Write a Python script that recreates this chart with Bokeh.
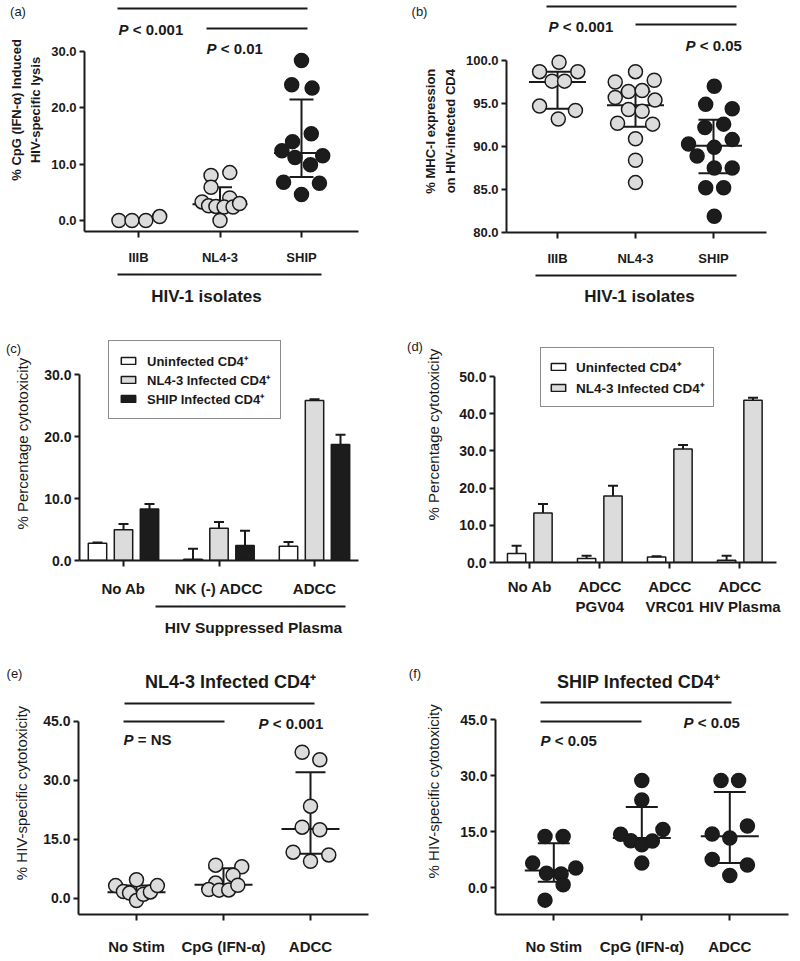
from bokeh.plotting import figure
from bokeh.layouts import column, row
from bokeh.models import (FixedTicker, NumeralTickFormatter, Label, Legend,
                          LegendItem, Range1d)
from bokeh.embed import file_html
from bokeh.resources import INLINE

FONT = "Liberation Sans"
INK = "#1a1a1a"
GREY = "#dcdcdc"
DARK = "#1c1c1c"
VERT = 1.5707963

# ================= DATA =================
# (a) CpG (IFN-alpha) induced HIV-specific lysis
a_cats = ["IIIB", "NL4-3", "SHIP"]
a_iiib = [0.0, 0.0, 0.0, 0.7]
a_iiib_dx = [-0.24, -0.08, 0.09, 0.26]
a_nl43 = [8.0, 8.5, 5.9, 4.0, 3.3, 2.6, 2.5, 2.4, 2.4, 3.0, 0.0]
a_nl43_dx = [-0.11, 0.12, -0.11, 0.12, -0.22, -0.14, -0.05, 0.05, 0.16, 0.24, 0.0]
a_ship = [28.4, 24.1, 23.5, 15.4, 14.0, 12.4, 11.2, 11.5, 9.9, 6.8, 6.6, 4.6]
a_ship_dx = [0.0, -0.12, 0.13, 0.12, -0.11, -0.24, -0.08, 0.26, 0.11, -0.22, 0.22, 0.0]
a_stat_cat = [2, 3]
a_median = [2.9, 12.0]
a_q1 = [2.4, 7.7]
a_q3 = [5.9, 21.5]
a_yticks = [0, 10, 20, 30]

# (b) MHC-I expression on HIV-infected CD4
b_cats = ["IIIB", "NL4-3", "SHIP"]
b_iiib = [99.8, 98.7, 98.7, 97.6, 97.6, 94.7, 94.2, 93.2]
b_iiib_dx = [0.02, -0.23, 0.26, -0.07, 0.09, -0.23, 0.23, 0.01]
b_nl43 = [98.7, 97.5, 97.7, 96.4, 96.5, 95.7, 95.4, 94.3, 94.1, 92.7, 92.6, 90.9, 88.4, 85.8]
b_nl43_dx = [0.0, -0.26, 0.24, -0.09, 0.085, -0.26, 0.25, -0.09, 0.085, -0.23, 0.22, 0.0, 0.0, 0.0]
b_ship = [97.0, 94.9, 94.4, 92.2, 92.6, 90.8, 90.3, 89.9, 88.9, 87.5, 87.5, 85.2, 85.2, 81.9]
b_ship_dx = [0.01, -0.1, 0.24, -0.11, 0.13, 0.24, -0.32, 0.01, -0.21, 0.01, 0.24, -0.1, 0.13, 0.01]
b_stat_cat = [1, 2, 3]
b_median = [97.5, 94.8, 90.1]
b_q1 = [94.4, 92.3, 86.9]
b_q3 = [98.7, 96.4, 93.1]
b_yticks = [80, 85, 90, 95, 100]

# (c) % cytotoxicity, HIV suppressed plasma
c_cats = ["No Ab", "NK (-) ADCC", "ADCC"]
c_series = ["Uninfected CD4\u207a", "NL4-3 Infected CD4\u207a", "SHIP Infected CD4\u207a"]
c_uninf = [2.8, 0.2, 2.3]
c_uninf_err = [0.1, 1.7, 0.7]
c_nl43 = [4.95, 5.2, 25.8]
c_nl43_err = [0.95, 1.0, 0.2]
c_ship = [8.3, 2.4, 18.7]
c_ship_err = [0.8, 2.4, 1.6]
c_yticks = [0, 10, 20, 30]

# (d) % cytotoxicity, antibodies
d_cats = ["No Ab", "ADCC\nPGV04", "ADCC\nVRC01", "ADCC\nHIV Plasma"]
d_series = ["Uninfected CD4\u207a", "NL4-3 Infected CD4\u207a"]
d_uninf = [2.4, 1.1, 1.5, 0.6]
d_uninf_err = [2.1, 0.7, 0.2, 1.2]
d_nl43 = [13.3, 17.9, 30.5, 43.6]
d_nl43_err = [2.4, 2.7, 1.1, 0.7]
d_yticks = [0, 10, 20, 30, 40, 50]

# (e) NL4-3 infected CD4+
e_cats = ["No Stim", "CpG (IFN-\u03b1)", "ADCC"]
e_nostim = [3.2, 4.7, 1.7, 1.3, -0.6, 1.0, 1.6, 3.2]
e_nostim_dx = [-0.24, 0.0, -0.15, -0.08, 0.0, 0.08, 0.16, 0.24]
e_cpg = [8.4, 8.0, 5.85, 3.85, 2.2, 2.05, 2.1, 3.3]
e_cpg_dx = [-0.09, 0.21, 0.11, -0.09, -0.17, -0.05, 0.06, 0.165]
e_adcc = [37.1, 35.2, 23.4, 18.05, 17.4, 11.7, 11.0, 9.4]
e_adcc_dx = [-0.096, 0.107, 0.0, -0.096, 0.107, -0.2, 0.21, 0.0]
e_median = [1.5, 3.4, 17.6]
e_q1 = [0.9, 2.1, 11.3]
e_q3 = [3.2, 7.6, 32.0]
e_yticks = [0, 15, 30, 45]

# (f) SHIP infected CD4+
f_cats = ["No Stim", "CpG (IFN-\u03b1)", "ADCC"]
f_nostim = [13.7, 13.7, 6.6, 3.9, 3.7, 5.3, 0.8, -3.3]
f_nostim_dx = [-0.10, 0.106, -0.24, -0.083, 0.083, 0.25, 0.106, -0.10]
f_cpg = [28.7, 23.5, 14.3, 12.6, 11.5, 12.5, 15.6, 6.6]
f_cpg_dx = [0.0, 0.0, -0.24, -0.125, 0.0, 0.12, 0.24, 0.0]
f_adcc = [28.7, 28.7, 14.4, 16.5, 13.3, 7.6, 6.1, 3.3]
f_adcc_dx = [-0.1, 0.1, -0.2, 0.2, 0.0, -0.2, 0.2, 0.0]
f_median = [4.6, 13.3, 13.8]
f_q1 = [1.6, 12.0, 6.6]
f_q3 = [11.9, 21.6, 25.6]
f_yticks = [0, 15, 30, 45]


# ================= LAYOUT HELPERS =================
class Geo:
    """Main-plot geometry in page pixels; axis calibration from tick positions."""
    def __init__(self, left, top, w, h, frame, xcal, ycal):
        self.left, self.top, self.w, self.h = left, top, w, h
        self.fl, self.fr, self.ft, self.fb = frame
        (px0, v0), (px1, v1) = xcal
        self.kx = (v1 - v0) / (px1 - px0)
        self.xc = (px0, v0)
        (py0, w0), (py1, w1) = ycal
        self.ky = (w1 - w0) / (py1 - py0)
        self.yc = (py0, w0)

    def X(self, px):
        return self.xc[1] + (px - self.xc[0]) * self.kx

    def Y(self, py):
        return self.yc[1] + (py - self.yc[0]) * self.ky

    def DX(self, dpx):
        return dpx * abs(self.kx)


class PageGeo:
    """Identity geometry for decoration strips (page pixel coordinates)."""
    def X(self, px):
        return px

    def Y(self, py):
        return py


PG = PageGeo()


def make_fig(g, yticks, ytick_size, xticks, xlabels, xlab_size, xstandoff):
    p = figure(width=g.w, height=g.h,
               x_range=Range1d(g.X(g.fl), g.X(g.fr)),
               y_range=Range1d(g.Y(g.fb), g.Y(g.ft)),
               output_backend="svg", toolbar_location=None,
               min_border_left=g.fl - g.left, min_border_right=g.left + g.w - g.fr,
               min_border_top=g.ft - g.top, min_border_bottom=g.top + g.h - g.fb)
    p.grid.visible = False
    p.outline_line_color = None
    p.background_fill_color = "white"
    p.border_fill_color = "white"

    ya = p.yaxis[0]
    ya.ticker = FixedTicker(ticks=yticks, minor_ticks=[])
    ya.formatter = NumeralTickFormatter(format="0.0")
    ya.bounds = (g.Y(g.fb), max(yticks))
    ya.major_label_text_font = FONT
    ya.major_label_text_font_size = f"{ytick_size}px"
    ya.major_label_text_font_style = "bold"
    ya.major_label_text_color = INK
    ya.major_label_standoff = 3
    ya.major_tick_out = 5
    ya.major_tick_in = 0
    ya.minor_tick_out = 0
    ya.minor_tick_in = 0
    ya.axis_line_width = 2
    ya.major_tick_line_width = 2
    ya.axis_line_color = INK
    ya.major_tick_line_color = INK

    xa = p.xaxis[0]
    xa.ticker = FixedTicker(ticks=xticks, minor_ticks=[])
    xa.major_label_overrides = {t: lab for t, lab in zip(xticks, xlabels)}
    xa.major_label_text_font = FONT
    xa.major_label_text_font_size = f"{xlab_size}px"
    xa.major_label_text_font_style = "bold"
    xa.major_label_text_color = INK
    xa.major_label_standoff = xstandoff
    xa.major_tick_out = 6
    xa.major_tick_in = 0
    xa.minor_tick_out = 0
    xa.minor_tick_in = 0
    xa.axis_line_width = 2
    xa.major_tick_line_width = 2
    xa.axis_line_color = INK
    xa.major_tick_line_color = INK
    return p


def strip(x0, y0, w, h):
    s = figure(width=w, height=h, x_range=Range1d(x0, x0 + w), y_range=Range1d(y0 + h, y0),
               output_backend="svg", toolbar_location=None, min_border=0,
               x_axis_type=None, y_axis_type=None)
    s.grid.visible = False
    s.outline_line_color = None
    s.background_fill_color = "white"
    s.border_fill_color = "white"
    return s


def put_text(p, g, px, py, s, size, style="bold", align="left", angle=0.0, x_offset=0,
             line_height=1.2):
    p.add_layout(Label(x=g.X(px), y=g.Y(py), text=s, text_font=FONT,
                       text_font_size=f"{size}px", text_font_style=style,
                       text_align=align, text_baseline="middle", angle=angle,
                       x_offset=x_offset, text_color=INK, text_line_height=line_height))


def pval(p, g, px, py, rest, size=15):
    put_text(p, g, px, py, "P", size, "bold italic")
    put_text(p, g, px, py, rest, size, "bold", x_offset=size * 0.953)


def hline(p, g, px0, px1, py):
    p.segment(x0=[g.X(px0)], x1=[g.X(px1)], y0=[g.Y(py)], y1=[g.Y(py)],
              line_color=INK, line_width=2)


def stats(p, g, cats, med, q1, q3, mw_px, cw_px):
    mw, cw = g.DX(mw_px), g.DX(cw_px)
    p.segment(x0=cats, x1=cats, y0=q1, y1=q3, line_color=INK, line_width=2)
    p.segment(x0=[c - mw for c in cats], x1=[c + mw for c in cats], y0=med, y1=med,
              line_color=INK, line_width=2)
    p.segment(x0=[c - cw for c in cats], x1=[c + cw for c in cats], y0=q1, y1=q1,
              line_color=INK, line_width=2)
    p.segment(x0=[c - cw for c in cats], x1=[c + cw for c in cats], y0=q3, y1=q3,
              line_color=INK, line_width=2)


def dots(p, cat, vals, dx, fill):
    p.scatter(x=[cat + d for d in dx], y=vals, marker="circle", size=14,
              fill_color=fill, line_color=INK, line_width=1.5)


def bars(p, g, cats, vals, errs, off_px, w_px, fill):
    off, w, cw = g.DX(off_px), g.DX(w_px), g.DX(5)
    xs = [c + off for c in cats]
    r = p.vbar(x=xs, top=vals, bottom=0, width=w, fill_color=fill,
               line_color=INK, line_width=1.5)
    tops = [v + e for v, e in zip(vals, errs)]
    p.segment(x0=xs, x1=xs, y0=vals, y1=tops, line_color=INK, line_width=2)
    p.segment(x0=[x - cw for x in xs], x1=[x + cw for x in xs], y0=tops, y1=tops,
              line_color=INK, line_width=2)
    return r


def legend(p, renderers, labels, loc, label_h, pad, spacing, standoff, size):
    leg = Legend(items=[LegendItem(label=l, renderers=[r]) for l, r in zip(labels, renderers)],
                 location=loc, orientation="vertical", border_line_color=INK,
                 border_line_width=1.5, background_fill_color="white",
                 background_fill_alpha=1.0, padding=pad, spacing=spacing, margin=0,
                 glyph_width=18, glyph_height=9, label_height=label_h,
                 label_standoff=standoff, label_text_font=FONT,
                 label_text_font_size=f"{size}px", label_text_font_style="bold",
                 label_text_color=INK)
    p.add_layout(leg)


# ================= PANEL (a) =================
ga = Geo(44, 0, 356, 268, (84, 358, 0, 231), ((138, 1), (301, 3)), ((220, 0), (51, 30)))
pa = make_fig(ga, a_yticks, 13, [1, 2, 3], a_cats, 13, 12)
hline(pa, ga, 117, 307, 8)
hline(pa, ga, 206, 307, 28)
stats(pa, ga, a_stat_cat, a_median, a_q1, a_q3, 27.5, 12)
dots(pa, 1, a_iiib, a_iiib_dx, GREY)
dots(pa, 2, a_nl43, a_nl43_dx, GREY)
dots(pa, 3, a_ship, a_ship_dx, DARK)
pval(pa, ga, 118, 29, "< 0.001")
pval(pa, ga, 206, 48, "< 0.01")
la = strip(0, 0, 44, 268)
put_text(la, PG, 17.5, 13, "(a)", 13, "normal", "center")
put_text(la, PG, 25.5, 127, "% CpG (IFN-\u03b1) Induced\nHIV-specific lysis", 13, "bold",
         "center", angle=VERT, line_height=1.3)
ba = strip(0, 268, 400, 60)
hline(ba, PG, 117, 321, 274)
put_text(ba, PG, 206, 296, "HIV-1 isolates", 17, "bold", "center")

# ================= PANEL (b) =================
gb = Geo(458, 0, 342, 268, (506, 766, 0, 232), ((557, 1), (713, 3)), ((232, 80), (60, 100)))
pb = make_fig(gb, b_yticks, 13, [1, 2, 3], b_cats, 13, 12)
hline(pb, gb, 546, 736, 6)
hline(pb, gb, 635, 736, 24)
stats(pb, gb, b_stat_cat, b_median, b_q1, b_q3, 28.5, 15)
dots(pb, 1, b_iiib, b_iiib_dx, GREY)
dots(pb, 2, b_nl43, b_nl43_dx, GREY)
dots(pb, 3, b_ship, b_ship_dx, DARK)
pval(pb, gb, 548, 26, "< 0.001")
pval(pb, gb, 685, 45, "< 0.05")
lb = strip(400, 0, 58, 268)
put_text(lb, PG, 419, 13, "(b)", 13, "normal", "center")
put_text(lb, PG, 440, 151, "% MHC-I expression\non HIV-infected CD4", 13, "bold",
         "center", angle=VERT, line_height=1.3)
bb = strip(400, 268, 400, 60)
hline(bb, PG, 535, 736, 275)
put_text(bb, PG, 639, 296, "HIV-1 isolates", 17, "bold", "center")

# ================= PANEL (c) =================
gc = Geo(36, 328, 364, 272, (79, 358, 328, 560), ((123, 1), (314, 3)), ((560, 0), (374, 30)))
pc = make_fig(gc, c_yticks, 14, [1, 2, 3], c_cats, 15, 13)
cc = [1, 2, 3]
r1 = bars(pc, gc, cc, c_uninf, c_uninf_err, -26, 18.4, "white")
r2 = bars(pc, gc, cc, c_nl43, c_nl43_err, 0, 18.4, GREY)
r3 = bars(pc, gc, cc, c_ship, c_ship_err, 26, 18.4, DARK)
legend(pc, [r1, r2, r3], c_series, (29, 141), 19, 10, 0, 10, 13)
lc = strip(0, 328, 36, 272)
put_text(lc, PG, 13, 352, "(c)", 13, "normal", "center")
put_text(lc, PG, 22, 463, "% Percentage cytotoxicity", 15, "normal", "center", angle=VERT)
bc = strip(0, 600, 400, 48)
hline(bc, PG, 155, 345, 606)
put_text(bc, PG, 253, 627, "HIV Suppressed Plasma", 15.5, "bold", "center")

# ================= PANEL (d) =================
gd = Geo(445, 328, 355, 320, (494, 776, 328, 562), ((529.3, 1), (739.3, 4)), ((562, 0), (376, 50)))
pd_ = make_fig(gd, d_yticks, 14, [1, 2, 3, 4], d_cats, 15, 9)
dc = [1, 2, 3, 4]
s1 = bars(pd_, gd, dc, d_uninf, d_uninf_err, -13.2, 18.3, "white")
s2 = bars(pd_, gd, dc, d_nl43, d_nl43_err, 13.2, 18.3, GREY)
legend(pd_, [s1, s2], d_series, (46, 155), 21, 8, 0, 9, 13.5)
ld = strip(400, 328, 45, 320)
put_text(ld, PG, 414.5, 352, "(d)", 13, "normal", "center")
put_text(ld, PG, 433, 473, "% Percentage cytotoxicity", 15, "normal", "center", angle=VERT)

# ================= PANEL (e) =================
ge = Geo(36, 648, 364, 311, (78, 368, 648, 914), ((136, 1), (310, 3)), ((897.7, 0), (720.7, 45)))
pe = make_fig(ge, e_yticks, 14, [1, 2, 3], e_cats, 15, 17)
hline(pe, ge, 124, 314, 703)
hline(pe, ge, 123, 224, 721)
stats(pe, ge, [1, 2, 3], e_median, e_q1, e_q3, 29, 15)
dots(pe, 1, e_nostim, e_nostim_dx, GREY)
dots(pe, 2, e_cpg, e_cpg_dx, GREY)
dots(pe, 3, e_adcc, e_adcc_dx, GREY)
pval(pe, ge, 123, 739, "= NS")
pval(pe, ge, 258, 723, "< 0.001")
put_text(pe, ge, 230, 681, "NL4-3 Infected CD4\u207a", 18, "bold", "center")
le = strip(0, 648, 36, 311)
put_text(le, PG, 14, 677, "(e)", 13, "normal", "center")
put_text(le, PG, 20.7, 817, "% HIV-specific cytotoxicity", 15, "normal", "center", angle=VERT)

# ================= PANEL (f) =================
gf = Geo(445, 648, 355, 311, (495, 788, 648, 914), ((553.3, 1), (729.3, 3)), ((887.3, 0), (719, 45)))
pf = make_fig(gf, f_yticks, 14, [1, 2, 3], f_cats, 15, 17)
hline(pf, gf, 540, 731, 702)
hline(pf, gf, 540, 641, 721)
stats(pf, gf, [1, 2, 3], f_median, f_q1, f_q3, 29, 16)
dots(pf, 1, f_nostim, f_nostim_dx, DARK)
dots(pf, 2, f_cpg, f_cpg_dx, DARK)
dots(pf, 3, f_adcc, f_adcc_dx, DARK)
pval(pf, gf, 540, 740, "< 0.05")
pval(pf, gf, 683, 722, "< 0.05")
put_text(pf, gf, 638, 681, "SHIP Infected CD4\u207a", 18, "bold", "center")
lf = strip(400, 648, 45, 311)
put_text(lf, PG, 414.5, 677, "(f)", 13, "normal", "center")
put_text(lf, PG, 433.3, 815, "% HIV-specific cytotoxicity", 15, "normal", "center", angle=VERT)

panel_a = column(row(la, pa), ba)
panel_b = column(row(lb, pb), bb)
panel_c = column(row(lc, pc), bc)
panel_d = row(ld, pd_)
panel_e = row(le, pe)
panel_f = row(lf, pf)
layout = column(row(panel_a, panel_b), row(panel_c, panel_d), row(panel_e, panel_f))
open("out.html", "w").write(file_html(layout, INLINE))
